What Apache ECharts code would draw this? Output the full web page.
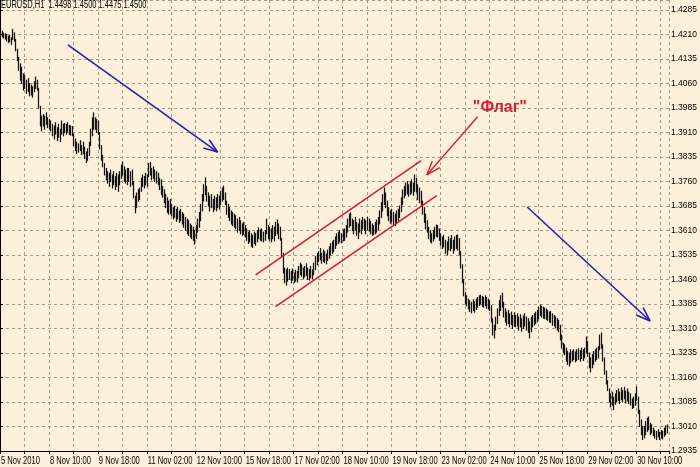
<!DOCTYPE html>
<html><head><meta charset="utf-8">
<script src="https://cdn.jsdelivr.net/npm/echarts@6/dist/echarts.min.js"></script>
<style>html,body{margin:0;padding:0;background:#fcf0da}#c{width:700px;height:467px}</style>
</head><body><div id="c"></div>
<script>
const symbolTitle = 'EURUSD,H1  1.4498 1.4500 1.4475 1.4500';
const timeLabels = ['5 Nov 2010','8 Nov 10:00','9 Nov 18:00','11 Nov 02:00','12 Nov 10:00','15 Nov 18:00','17 Nov 02:00','18 Nov 10:00','19 Nov 18:00','23 Nov 02:00','24 Nov 10:00','25 Nov 18:00','29 Nov 02:00','30 Nov 10:00'];
const priceMin = 1.2935, priceMax = 1.43156, priceStep = 0.0075;
const barsPerLabel = 32, barsPerGrid = 16, barSlots = 437.5;

const highs = [
1.4226,1.4220,1.4214,1.4212,1.4210,1.4205,1.4208,1.4200,1.4226,1.4215,
1.4195,1.4165,1.4140,1.4120,1.4110,1.4090,1.4085,1.4070,1.4075,1.4060,
1.4055,1.4050,1.4065,1.4080,1.4070,1.4045,1.3990,1.3960,1.3965,1.3960,
1.3970,1.3955,1.3950,1.3945,1.3935,1.3930,1.3940,1.3925,1.3935,1.3920,
1.3945,1.3935,1.3938,1.3935,1.3940,1.3932,1.3930,1.3928,1.3905,1.3890,
1.3880,1.3875,1.3885,1.3870,1.3880,1.3865,1.3850,1.3860,1.3880,1.3920,
1.3955,1.3970,1.3955,1.3950,1.3945,1.3910,1.3870,1.3840,1.3815,1.3800,
1.3790,1.3785,1.3795,1.3780,1.3790,1.3775,1.3785,1.3780,1.3790,1.3810,
1.3820,1.3805,1.3795,1.3800,1.3800,1.3790,1.3795,1.3760,1.3715,1.3725,
1.3735,1.3740,1.3770,1.3780,1.3775,1.3785,1.3780,1.3815,1.3818,1.3800,
1.3805,1.3795,1.3790,1.3785,1.3770,1.3765,1.3745,1.3735,1.3720,1.3710,
1.3700,1.3705,1.3690,1.3680,1.3685,1.3675,1.3680,1.3670,1.3675,1.3665,
1.3660,1.3650,1.3645,1.3640,1.3630,1.3625,1.3620,1.3610,1.3625,1.3645,
1.3665,1.3690,1.3720,1.3750,1.3771,1.3745,1.3725,1.3715,1.3720,1.3705,
1.3715,1.3710,1.3720,1.3715,1.3730,1.3740,1.3746,1.3725,1.3700,1.3690,
1.3680,1.3670,1.3665,1.3660,1.3655,1.3645,1.3650,1.3640,1.3630,1.3635,
1.3625,1.3615,1.3605,1.3610,1.3600,1.3595,1.3605,1.3600,1.3610,1.3618,
1.3612,1.3615,1.3605,1.3610,1.3645,1.3625,1.3620,1.3615,1.3625,1.3620,
1.3635,1.3642,1.3630,1.3620,1.3585,1.3540,1.3495,1.3490,1.3495,1.3490,
1.3485,1.3492,1.3480,1.3488,1.3485,1.3500,1.3510,1.3505,1.3495,1.3500,
1.3508,1.3495,1.3490,1.3500,1.3490,1.3510,1.3530,1.3540,1.3545,1.3555,
1.3540,1.3550,1.3545,1.3538,1.3550,1.3560,1.3570,1.3575,1.3580,1.3590,
1.3600,1.3605,1.3610,1.3600,1.3612,1.3615,1.3625,1.3645,1.3660,1.3664,
1.3645,1.3640,1.3650,1.3635,1.3630,1.3645,1.3640,1.3650,1.3645,1.3640,
1.3650,1.3645,1.3638,1.3630,1.3625,1.3635,1.3642,1.3650,1.3670,1.3695,
1.3720,1.3740,1.3725,1.3700,1.3680,1.3670,1.3675,1.3665,1.3660,1.3670,
1.3675,1.3685,1.3710,1.3734,1.3745,1.3755,1.3760,1.3750,1.3758,1.3765,
1.3755,1.3780,1.3770,1.3750,1.3740,1.3730,1.3700,1.3680,1.3660,1.3640,
1.3620,1.3610,1.3600,1.3610,1.3620,1.3627,1.3625,1.3615,1.3600,1.3590,
1.3595,1.3580,1.3575,1.3590,1.3585,1.3595,1.3580,1.3590,1.3595,1.3596,
1.3585,1.3545,1.3505,1.3460,1.3420,1.3410,1.3400,1.3395,1.3390,1.3398,
1.3392,1.3400,1.3405,1.3410,1.3412,1.3408,1.3405,1.3410,1.3405,1.3400,
1.3395,1.3380,1.3340,1.3320,1.3345,1.3370,1.3395,1.3410,1.3418,1.3390,
1.3370,1.3360,1.3365,1.3355,1.3360,1.3350,1.3358,1.3350,1.3355,1.3345,
1.3352,1.3340,1.3348,1.3355,1.3345,1.3340,1.3330,1.3345,1.3350,1.3355,
1.3360,1.3365,1.3375,1.3382,1.3378,1.3375,1.3372,1.3370,1.3365,1.3360,
1.3362,1.3355,1.3350,1.3345,1.3340,1.3335,1.3320,1.3290,1.3265,1.3260,
1.3250,1.3240,1.3235,1.3245,1.3240,1.3245,1.3238,1.3245,1.3248,1.3242,
1.3250,1.3245,1.3250,1.3284,1.3270,1.3235,1.3220,1.3230,1.3240,1.3245,
1.3250,1.3255,1.3290,1.3296,1.3260,1.3220,1.3180,1.3150,1.3125,1.3110,
1.3115,1.3100,1.3110,1.3120,1.3125,1.3115,1.3128,1.3120,1.3130,1.3118,
1.3125,1.3115,1.3110,1.3095,1.3100,1.3110,1.3131,1.3100,1.3060,1.3030,
1.3010,1.3010,1.3025,1.3035,1.3039,1.3020,1.3015,1.3005,1.2998,1.2995,
1.3000,1.2992,1.2998,1.2995,1.3005,1.3012,1.3015
];
const lows = [
1.4208,1.4203,1.4199,1.4196,1.4190,1.4185,1.4188,1.4180,1.4195,1.4190,
1.4160,1.4130,1.4100,1.4070,1.4060,1.4040,1.4045,1.4030,1.4035,1.4022,
1.4025,1.4018,1.4035,1.4045,1.4040,1.3985,1.3930,1.3915,1.3930,1.3920,
1.3935,1.3925,1.3920,1.3915,1.3900,1.3890,1.3905,1.3885,1.3895,1.3882,
1.3905,1.3900,1.3910,1.3905,1.3912,1.3904,1.3902,1.3900,1.3870,1.3855,
1.3845,1.3850,1.3855,1.3842,1.3845,1.3830,1.3818,1.3825,1.3840,1.3870,
1.3900,1.3920,1.3920,1.3910,1.3905,1.3860,1.3825,1.3805,1.3780,1.3765,
1.3755,1.3745,1.3760,1.3740,1.3750,1.3735,1.3745,1.3730,1.3750,1.3770,
1.3780,1.3760,1.3755,1.3750,1.3760,1.3745,1.3750,1.3710,1.3664,1.3680,
1.3700,1.3705,1.3730,1.3745,1.3740,1.3750,1.3745,1.3775,1.3780,1.3765,
1.3770,1.3760,1.3755,1.3750,1.3735,1.3720,1.3712,1.3695,1.3680,1.3665,
1.3660,1.3662,1.3655,1.3645,1.3650,1.3638,1.3645,1.3635,1.3640,1.3630,
1.3620,1.3610,1.3600,1.3595,1.3590,1.3585,1.3580,1.3568,1.3585,1.3605,
1.3620,1.3640,1.3670,1.3700,1.3720,1.3700,1.3685,1.3670,1.3680,1.3668,
1.3675,1.3670,1.3680,1.3675,1.3690,1.3700,1.3705,1.3690,1.3660,1.3650,
1.3640,1.3630,1.3625,1.3620,1.3615,1.3605,1.3610,1.3600,1.3595,1.3598,
1.3590,1.3580,1.3570,1.3575,1.3562,1.3558,1.3570,1.3565,1.3575,1.3585,
1.3580,1.3578,1.3575,1.3580,1.3600,1.3585,1.3580,1.3575,1.3585,1.3578,
1.3595,1.3600,1.3585,1.3580,1.3530,1.3480,1.3450,1.3443,1.3455,1.3460,
1.3450,1.3458,1.3450,1.3455,1.3452,1.3465,1.3475,1.3470,1.3462,1.3468,
1.3472,1.3460,1.3458,1.3465,1.3462,1.3475,1.3490,1.3505,1.3515,1.3520,
1.3510,1.3515,1.3512,1.3508,1.3518,1.3525,1.3535,1.3540,1.3545,1.3555,
1.3565,1.3570,1.3575,1.3572,1.3578,1.3580,1.3590,1.3605,1.3620,1.3625,
1.3610,1.3600,1.3612,1.3595,1.3585,1.3605,1.3600,1.3615,1.3610,1.3600,
1.3612,1.3608,1.3600,1.3595,1.3598,1.3600,1.3605,1.3612,1.3630,1.3650,
1.3670,1.3690,1.3680,1.3655,1.3640,1.3632,1.3637,1.3628,1.3625,1.3632,
1.3640,1.3650,1.3668,1.3690,1.3710,1.3718,1.3722,1.3715,1.3720,1.3725,
1.3718,1.3730,1.3728,1.3705,1.3695,1.3688,1.3660,1.3635,1.3615,1.3605,
1.3585,1.3575,1.3572,1.3578,1.3585,1.3592,1.3590,1.3580,1.3565,1.3555,
1.3560,1.3540,1.3535,1.3550,1.3548,1.3555,1.3540,1.3550,1.3555,1.3550,
1.3535,1.3495,1.3450,1.3410,1.3385,1.3380,1.3370,1.3362,1.3358,1.3365,
1.3360,1.3368,1.3375,1.3380,1.3385,1.3378,1.3375,1.3380,1.3372,1.3370,
1.3365,1.3330,1.3290,1.3281,1.3305,1.3325,1.3350,1.3365,1.3375,1.3345,
1.3330,1.3320,1.3325,1.3315,1.3322,1.3310,1.3318,1.3315,1.3318,1.3305,
1.3315,1.3302,1.3310,1.3318,1.3305,1.3298,1.3281,1.3300,1.3315,1.3320,
1.3325,1.3330,1.3340,1.3350,1.3345,1.3342,1.3340,1.3338,1.3335,1.3330,
1.3328,1.3320,1.3318,1.3312,1.3305,1.3300,1.3275,1.3250,1.3235,1.3230,
1.3210,1.3200,1.3195,1.3205,1.3210,1.3215,1.3208,1.3212,1.3215,1.3210,
1.3218,1.3212,1.3220,1.3235,1.3225,1.3190,1.3177,1.3190,1.3200,1.3210,
1.3215,1.3220,1.3245,1.3250,1.3210,1.3170,1.3140,1.3120,1.3085,1.3070,
1.3075,1.3062,1.3078,1.3085,1.3090,1.3080,1.3092,1.3085,1.3095,1.3082,
1.3088,1.3080,1.3076,1.3065,1.3068,1.3075,1.3090,1.3050,1.3010,1.2985,
1.2970,1.2975,1.2985,1.2995,1.3000,1.2985,1.2990,1.2982,1.2975,1.2970,
1.2978,1.2970,1.2975,1.2972,1.2980,1.2985,1.2990
];

// annotations in chart units: [barIndex, price, barIndex, price]
const channelLines = [[167.2, 1.3474, 275.4, 1.3824], [180.2, 1.3377, 285.6, 1.3717]];
const trendArrows = [[44.4, 1.4178, 142.4, 1.3850], [344.8, 1.3682, 425.1, 1.3333]];
const flagArrow = [[312.4, 1.3958, 279.1, 1.3780]];
const flagText = '"Флаг"';
const flagTextPos = [[326.9, 1.3985]];

const FONT = "'Liberation Sans', Arial, sans-serif";
const bars = highs.map((h, i) => [i, lows[i], h]);
const timeLabelData = timeLabels.map((t, k) => [k * barsPerLabel, priceMin, t]);

function segRender(color, width, head) {
  return function (params, api) {
    const s = api.coord([api.value(0), api.value(1)]);
    const t = api.coord([api.value(2), api.value(3)]);
    const children = [{type: 'line', shape: {x1: s[0], y1: s[1], x2: t[0], y2: t[1]}, style: {stroke: color, lineWidth: width}}];
    if (head) {
      const dx = t[0] - s[0], dy = t[1] - s[1], len = Math.hypot(dx, dy);
      const ux = dx / len, uy = dy / len, L = 15, a = 0.34;
      [1, -1].forEach(sg => {
        const c = Math.cos(a), sn = Math.sin(a) * sg;
        const bx = ux * c - uy * sn, by = ux * sn + uy * c;
        children.push({type: 'line', shape: {x1: t[0], y1: t[1], x2: t[0] - L * bx, y2: t[1] - L * by}, style: {stroke: color, lineWidth: width}});
      });
    }
    return {type: 'group', children};
  };
}

function priceLabel(v) {
  const k = (v - priceMin) / priceStep;
  return Math.abs(k - Math.round(k)) < 1e-6 ? v.toFixed(4) : '';
}

const chart = echarts.init(document.getElementById('c'), null, {renderer: 'canvas'});
chart.setOption({
  animation: false,
  backgroundColor: '#fcf0da',
  graphic: [{type: 'text', left: 1, top: 0, scaleX: 0.75, z: 10,
    style: {text: symbolTitle, fill: '#000', font: "10px 'Liberation Sans', Arial, sans-serif"}}],
  grid: {left: 0, right: 30, top: 0, bottom: 16, containLabel: false},
  xAxis: {
    type: 'value', min: 0, max: barSlots, interval: barsPerGrid,
    axisLine: {show: true, onZero: false, lineStyle: {color: '#000', width: 1}},
    axisTick: {show: true, length: 3, lineStyle: {color: '#000'}},
    axisLabel: {show: false},
    splitLine: {show: true, lineStyle: {type: [3, 3], color: '#9e9a92', width: 1}}
  },
  yAxis: {
    type: 'value', position: 'right', min: priceMin, max: priceMax, interval: priceStep, scale: true,
    axisLine: {show: true, lineStyle: {color: '#000', width: 1}},
    axisTick: {show: true, length: 3, lineStyle: {color: '#000'}},
    axisLabel: {formatter: priceLabel, margin: 2, fontSize: 8.5, color: '#000', fontFamily: FONT, showMaxLabel: false},
    splitLine: {show: true, lineStyle: {type: [3, 3], color: '#9e9a92', width: 1}}
  },
  series: [
    {
      type: 'custom', data: bars, clip: true, encode: {x: 0, y: [1, 2]},
      renderItem: function (params, api) {
        const lo = api.coord([api.value(0), api.value(1)]);
        const hi = api.coord([api.value(0), api.value(2)]);
        const x = Math.round(lo[0]) + 0.5;
        return {type: 'line', shape: {x1: x, y1: lo[1] + 0.5, x2: x, y2: hi[1] - 0.5}, style: {stroke: '#141414', lineWidth: 1.25}};
      }
    },
    {type: 'custom', data: channelLines, clip: true, encode: {x: [0, 2], y: [1, 3]}, renderItem: segRender('#d41f30', 1.6, false)},
    {type: 'custom', data: trendArrows, clip: true, encode: {x: [0, 2], y: [1, 3]}, renderItem: segRender('#2323a8', 1.6, true)},
    {type: 'custom', data: flagArrow, clip: true, encode: {x: [0, 2], y: [1, 3]}, renderItem: segRender('#d41f30', 1.4, true)},
    {
      type: 'custom', data: flagTextPos, clip: false, encode: {x: 0, y: 1},
      renderItem: function (params, api) {
        const p = api.coord([api.value(0), api.value(1)]);
        return {type: 'text', x: p[0], y: p[1], style: {text: flagText, fill: '#d41f30',
          font: "bold 16px 'Liberation Sans', Arial, sans-serif", align: 'center', verticalAlign: 'middle',
          textAlign: 'center', textVerticalAlign: 'middle'}};
      }
    },
    {
      type: 'custom', data: timeLabelData, clip: false, encode: {x: 0, y: 1}, silent: true,
      renderItem: function (params, api) {
        const p = api.coord([api.value(0), api.value(1)]);
        return {type: 'text', x: p[0] + 1, y: p[1] + 5, scaleX: 0.76, style: {text: timeLabels[params.dataIndex], fill: '#000',
          font: "10px 'Liberation Sans', Arial, sans-serif", align: 'left', verticalAlign: 'top',
          textAlign: 'left', textVerticalAlign: 'top'}};
      }
    }
  ]
});
</script></body></html>
